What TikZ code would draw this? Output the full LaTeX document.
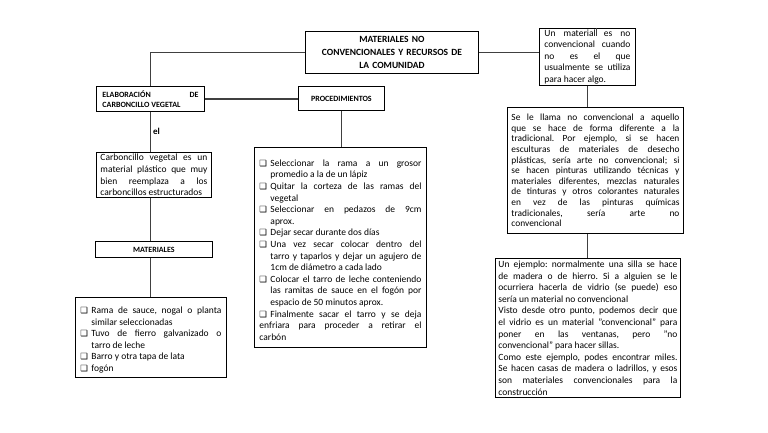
\documentclass[tikz,border=0pt]{standalone}
\usepackage{fontspec}
\setmainfont{Carlito}
\newfontfamily\dejavu{DejaVu Sans}
\frenchspacing
\newcommand{\bul}{{\dejavu\fontsize{8.5}{8}\selectfont ❑}}
\newcommand{\lsitem}[1]{\par\noindent\hangindent=11pt\hangafter=1\makebox[11pt][l]{\bul}#1}
\newcommand{\bodyfont}{\fontsize{9.5}{11.6}\selectfont\parindent=0pt\frenchspacing}
\newcommand{\headfont}{\bfseries\fontsize{8}{10.5}\selectfont}
\begin{document}
\begin{tikzpicture}[x=1pt,y=-1pt,
  box/.style={draw=black, line width=0.9pt, anchor=north west, inner xsep=5pt, inner ysep=1pt, align=justify, font=\bodyfont},
  conn/.style={draw=black!75, line width=1.2pt}]
\useasboundingbox (0,0) rectangle (768,433);
% boxes
\node[box, text width=163pt, minimum height=42pt, align=center, font=\bfseries\fontsize{9.5}{13}\selectfont] (title) at (305,31)
  {MATERIALES NO\\CONVENCIONALES Y RECURSOS DE\\LA COMUNIDAD};
\node[box, text width=86pt, minimum height=56pt] (um) at (539,28)
  {Un material es no \linebreak convencional cuando \linebreak no es el que \linebreak usualmente se utiliza \linebreak para hacer algo.};
\node[box, text width=96pt, minimum height=25pt, inner xsep=6pt, font=\headfont] (elab) at (96,86)
  {ELABORACIÓN DE \linebreak CARBONCILLO VEGETAL};
\node[box, text width=76pt, minimum height=24pt, align=center, font=\headfont] (proc) at (298,86)
  {PROCEDIMIENTOS};
\node[box, text width=162pt, minimum height=200pt] (mid) at (254,147)
  {\lsitem{Seleccionar la rama a un grosor \linebreak promedio a la de un lápiz}
   \lsitem{Quitar la corteza de las ramas del \linebreak vegetal}
   \lsitem{Seleccionar en pedazos de 9cm \linebreak aprox.}
   \lsitem{Dejar secar durante dos días}
   \lsitem{Una vez secar colocar dentro del \linebreak tarro y taparlos y dejar un agujero de \linebreak 1cm de diámetro a cada lado}
   \lsitem{Colocar el tarro de leche conteniendo \linebreak las ramitas de sauce en el fogón por \linebreak espacio de 50 minutos aprox.}
   \lsitem{Finalmente sacar el tarro y se deja \linebreak enfriara para proceder a retirar el \linebreak carbón}};
\node[box, text width=107pt, minimum height=45pt, inner xsep=4pt] (carb) at (96,152)
  {Carboncillo vegetal es un \linebreak material plástico que muy \linebreak bien reemplaza a los \linebreak carboncillos estructurados};
\node[box, text width=107pt, minimum height=16pt, align=center, font=\headfont] (mat) at (95,241)
  {MATERIALES};
\node[box, text width=141pt, minimum height=80pt] (list) at (75,297)
  {\lsitem{Rama de sauce, nogal o planta \linebreak similar seleccionadas}
   \lsitem{Tuvo de fierro galvanizado o \linebreak tarro de leche}
   \lsitem{Barro y otra tapa de lata}
   \lsitem{fogón}};
\node[box, text width=168pt, minimum height=126pt, inner xsep=4pt, font=\fontsize{9.4}{10.6}\selectfont\frenchspacing] (sll) at (507,107)
  {Se le llama no convencional a aquello \linebreak que se hace de forma diferente a la \linebreak tradicional. Por ejemplo, si se hacen \linebreak esculturas de materiales de desecho \linebreak plásticas, sería arte no convencional; si \linebreak se hacen pinturas utilizando técnicas y \linebreak materiales diferentes, mezclas naturales \linebreak de tinturas y otros colorantes naturales \linebreak en vez de las pinturas químicas \linebreak tradicionales, sería arte no \linebreak convencional};
\node[box, text width=179pt, minimum height=139pt, inner xsep=3pt] (ej) at (495,258)
  {Un ejemplo: normalmente una silla se hace \linebreak de madera o de hierro. Si a alguien se le \linebreak ocurriera hacerla de vidrio (se puede) eso \linebreak sería un material no convencional\par
   Visto desde otro punto, podemos decir que \linebreak el vidrio es un material "convencional" para \linebreak poner en las ventanas, pero "no \linebreak convencional" para hacer sillas.\par
   Como este ejemplo, podes encontrar miles. \linebreak Se hacen casas de madera o ladrillos, y esos \linebreak son materiales convencionales para la \linebreak construcción};
% label
\node[anchor=west, inner sep=0pt, font=\bfseries\fontsize{9}{10}\selectfont] (el) at (153,131) {el};
% connectors
\draw[conn] (title.west) -| (elab.north);
\draw[conn] (elab.east) -- (elab.east -| proc.west);
\draw[conn] (proc.south) -- (proc.south |- mid.north);
\draw[conn] (elab.south) -- (elab.south |- carb.north);
\draw[conn] (elab.south |- carb.south) -- (elab.south |- mat.north);
\draw[conn] (elab.south |- mat.south) -- (elab.south |- list.north);
\draw[conn] (title.east) -- (title.east -| um.west);
\draw[conn] (um.south) -- (um.south |- sll.north);
\draw[conn] (um.south |- sll.south) -- (um.south |- ej.north);
\coordinate (umtick) at ([xshift=9pt]um.north);
\draw[conn, line width=0.8pt] (umtick) -- ++(0,8);
\end{tikzpicture}
\end{document}
